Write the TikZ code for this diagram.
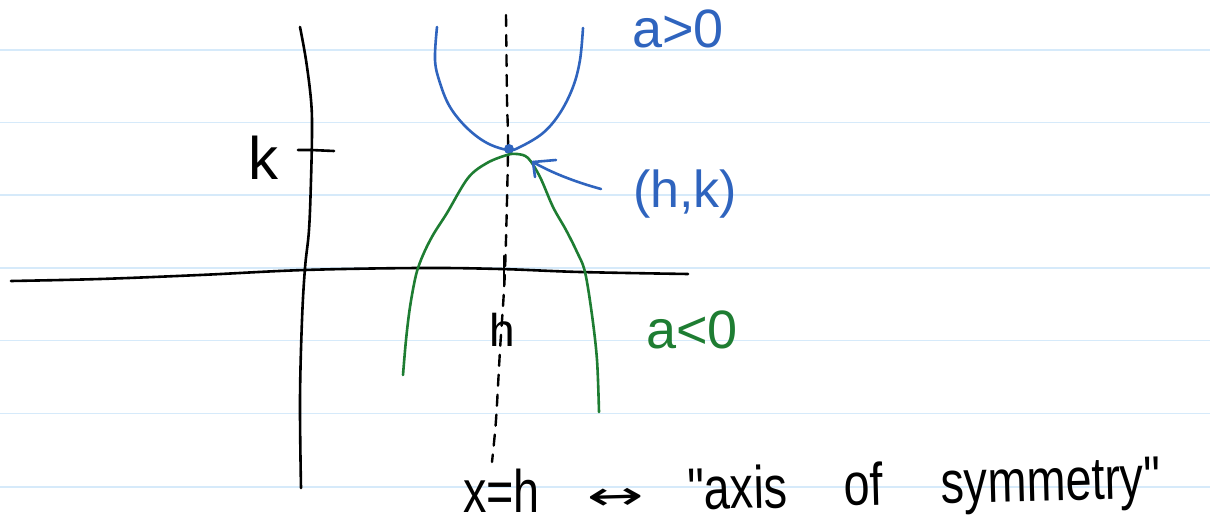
\documentclass[tikz,border=0pt]{standalone}
\usepackage{fontspec}
\setmainfont{Liberation Sans}[Ligatures=TeXOff]
\newfontfamily\symfont{DejaVu Sans}
\definecolor{penblue}{RGB}{47,100,190}
\definecolor{pengreen}{RGB}{30,125,50}
\definecolor{ruled}{RGB}{214,234,250}
\tikzset{
  ruleline/.style={ruled, line width=1.6pt},
  ink/.style={black, line width=2.6pt, line cap=round, line join=round},
  blueink/.style={penblue, line width=2.6pt, line cap=round, line join=round},
  greenink/.style={pengreen, line width=2.6pt, line cap=round, line join=round},
  dashaxis/.style={black, line width=2.4pt, dash pattern=on 11pt off 9pt, line cap=round},
  lbl/.style={inner sep=0pt, outer sep=0pt},
  caption/.style={lbl, anchor=base west, rotate=1.5, font=\fontsize{60}{70}\selectfont},
}
\begin{document}
\begin{tikzpicture}[x=1pt,y=-1pt]
\useasboundingbox[fill=white] (0,0) rectangle (1210,526);
% ruled lines
\foreach \yy in {50,122.7,195,268.3,340.7,413.3,486.7}
  \draw[ruleline] (0,\yy) -- (1210,\yy);
% axes
\draw[ink] plot[smooth, tension=0.6] coordinates {(300,27) (306,60) (311,100) (312,130) (311,180) (309,230) (305,268) (302,320) (300,400) (301,488)};
\draw[ink] plot[smooth, tension=0.6] coordinates {(11,281) (100,279) (200,275) (305,270) (420,268) (500,269) (580,272) (688,274)};
% k tick and label
\coordinate (ktick) at (311,150);
\draw[ink] (298,150) -- (ktick) -- (334,151);
\node[lbl, font=\fontsize{60}{70}\selectfont] (k) at (263,158) {k};
% axis of symmetry (dashed)
\draw[dashaxis] plot[smooth, tension=0.5] coordinates {(506,15) (507,100) (508,150) (505,270) (500,350) (496,420) (492,462)};
% h tick and label
\draw[ink] (504,256) -- (504,286);
\node[lbl, font=\fontsize{46}{54}\selectfont] (h) at (502,330) {h};
% blue parabola a>0
\coordinate (vertex) at (509,149);
\draw[blueink] plot[smooth, tension=0.6] coordinates {(437,27) (435,60) (440,83) (450,107) (467,128) (487,143) (508,150) (520,147) (543,133) (560,113) (573,87) (580,60) (583,28)};
\fill[penblue] (vertex) circle (5);
% green parabola a<0
\draw[greenink] plot[smooth, tension=0.55] coordinates {(403,375) (406,340) (410,307) (416,275) (423,255) (433,235) (447,213) (468,178) (487,163) (507,155) (517,154) (528,158) (540,177) (553,207) (566,230) (577,252) (585,272) (592,315) (597,360) (599,412)};
% labels
\node[lbl, penblue, font=\fontsize{54}{62}\selectfont] (apos) at (678,29) {a>0};
\node[lbl, pengreen, font=\fontsize{54}{62}\selectfont] (aneg) at (692,330) {a<0};
\node[lbl, penblue, font=\fontsize{52}{60}\selectfont] (hk) at (685,194) {(h,k)};
% arrow from (h,k) to vertex
\coordinate (tip) at (533,162);
\draw[blueink] (601,189) .. controls (575,182) and (550,172) .. (tip);
\draw[blueink] (556,160) -- (tip) -- (535,177);
% bottom caption
\node[caption, rotate=-1.5] (eq) at (463,512) {\scalebox{0.78}[1]{x=h}};
\node[lbl, rotate=1.5, font=\fontsize{40}{46}\symfont] (arr) at (616,499) {\scalebox{1.7}[1]{↔}};
\node[caption] (aos) at (688,510) {\scalebox{0.78}[1]{"axis\hspace{73pt}of\hspace{74pt}symmetry"}};
\end{tikzpicture}
\end{document}
